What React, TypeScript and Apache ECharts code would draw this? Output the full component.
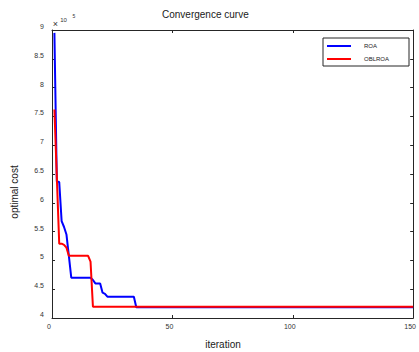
import React, { useEffect, useRef } from "react";
import * as echarts from "echarts";

const roaIter = [1, 2, 3, 4, 5, 6, 7, 8, 16, 17, 18, 20, 21, 22, 23, 34, 35, 150];
const roaCost = [8.95, 6.37, 6.36, 5.68, 5.58, 5.45, 5.08, 4.7, 4.7, 4.66, 4.6, 4.6, 4.44, 4.42, 4.37, 4.37, 4.185, 4.185];

const oblIter = [1, 2, 3, 4, 5, 6, 7, 15, 16, 17, 150];
const oblCost = [7.62, 6.45, 5.29, 5.29, 5.27, 5.22, 5.08, 5.08, 4.98, 4.195, 4.195];

const xTicks = [0, 50, 100, 150];
const yTicks = [4, 4.5, 5, 5.5, 6, 6.5, 7, 7.5, 8, 8.5, 9];

const FONT = "'Liberation Sans', Arial, Helvetica, sans-serif";
const AXIS = "#262626";

export default function App() {
  const ref = useRef<HTMLDivElement>(null);
  useEffect(() => {
    if (!ref.current) return;
    const chart = echarts.init(ref.current, undefined, { renderer: "svg" });
    const roa = roaIter.map((x, i) => [x, roaCost[i]]);
    const obl = oblIter.map((x, i) => [x, oblCost[i]]);
    const xMin = xTicks[0];
    const xMax = xTicks[xTicks.length - 1];
    const yMin = yTicks[0];
    const yMax = yTicks[yTicks.length - 1];
    chart.setOption({
      animation: false,
      backgroundColor: "#ffffff",
      textStyle: { fontFamily: FONT },
      title: {
        text: "Convergence curve",
        left: 162,
        top: 9,
        padding: 0,
        textStyle: { fontSize: 10, fontWeight: "normal", color: "#1a1a1a", fontFamily: FONT },
      },
      legend: {
        orient: "vertical",
        left: 323,
        top: 38,
        padding: [5, 20, 4, 4],
        itemGap: 7,
        itemWidth: 24,
        itemHeight: 2,
        icon: "rect",
        borderColor: "#262626",
        borderWidth: 1,
        backgroundColor: "#ffffff",
        textStyle: { fontSize: 6, color: "#1a1a1a", fontFamily: FONT, padding: [0, 0, 5, 8] },
        data: ["ROA", "OBLROA"],
      },
      grid: { left: 52, right: 1, top: 30, bottom: 34, containLabel: false },
      xAxis: [
        {
          type: "value",
          min: xMin,
          max: xMax,
          interval: 50,
          axisLine: { show: true, onZero: false, lineStyle: { color: AXIS, width: 1 } },
          axisTick: { show: true, inside: true, length: 3, lineStyle: { color: AXIS } },
          axisLabel: { fontSize: 7, color: "#333", margin: 5, padding: [0, 6, 0, 0], fontFamily: FONT },
          splitLine: { show: false },
        },
        {
          type: "value",
          position: "top",
          min: xMin,
          max: xMax,
          interval: 50,
          axisLine: { show: true, onZero: false, lineStyle: { color: AXIS, width: 1 } },
          axisTick: { show: true, inside: true, length: 3, lineStyle: { color: AXIS } },
          axisLabel: { show: false },
          splitLine: { show: false },
        },
      ],
      yAxis: [
        {
          type: "value",
          min: yMin,
          max: yMax,
          interval: 0.5,
          axisLine: { show: true, onZero: false, lineStyle: { color: AXIS, width: 1 } },
          axisTick: { show: true, inside: true, length: 3, lineStyle: { color: AXIS } },
          axisLabel: {
            fontSize: 7,
            color: "#333",
            margin: 8,
            verticalAlign: "bottom",
            fontFamily: FONT,
            formatter: (v: number) => String(v),
          },
          splitLine: { show: false },
        },
        {
          type: "value",
          position: "right",
          min: yMin,
          max: yMax,
          interval: 0.5,
          axisLine: { show: true, onZero: false, lineStyle: { color: AXIS, width: 1 } },
          axisTick: { show: true, inside: true, length: 3, lineStyle: { color: AXIS } },
          axisLabel: { show: false },
          splitLine: { show: false },
        },
      ],
      series: [
        {
          name: "ROA",
          type: "line",
          data: roa,
          showSymbol: false,
          symbol: "none",
          lineStyle: { color: "#0000ff", width: 2 },
          itemStyle: { color: "#0000ff" },
          z: 2,
        },
        {
          name: "OBLROA",
          type: "line",
          data: obl,
          showSymbol: false,
          symbol: "none",
          lineStyle: { color: "#ff0000", width: 2 },
          itemStyle: { color: "#ff0000" },
          z: 3,
        },
      ],
      graphic: [
        {
          type: "text",
          x: 55.3,
          y: 24.3,
          style: { text: "×", fontSize: 9, fill: "#333", font: `9px ${FONT}`, align: "center", verticalAlign: "middle" },
        },
        {
          type: "text",
          x: 63.5,
          y: 20,
          style: { text: "10", fill: "#333", font: `6px ${FONT}`, align: "center", verticalAlign: "middle" },
        },
        {
          type: "text",
          x: 74,
          y: 16,
          style: { text: "5", fill: "#333", font: `5px ${FONT}`, align: "center", verticalAlign: "middle" },
        },
        {
          type: "text",
          x: 223,
          y: 344,
          style: { text: "iteration", fill: "#1a1a1a", font: `10px ${FONT}`, align: "center", verticalAlign: "middle" },
        },
        {
          type: "text",
          x: 14,
          y: 192,
          rotation: Math.PI / 2,
          style: { text: "optimal cost", fill: "#1a1a1a", font: `10px ${FONT}`, align: "center", verticalAlign: "middle" },
        },
      ],
    });
    return () => chart.dispose();
  }, []);
  return <div ref={ref} style={{ width: 419, height: 352, position: "absolute", left: 0, top: 0 }} />;
}
